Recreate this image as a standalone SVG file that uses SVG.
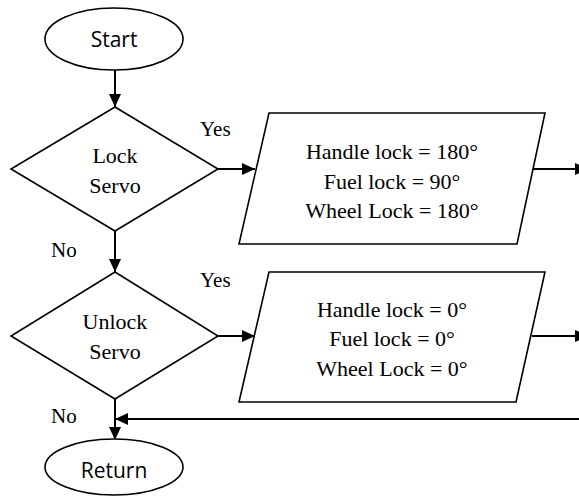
<svg xmlns="http://www.w3.org/2000/svg" width="579" height="497" viewBox="0 0 579 497">
<style>
.shape{fill:#fff;stroke:#000;stroke-width:1.6}
.conn{fill:none;stroke:#000;stroke-width:2}
.sans{font-family:"Open Sans","Noto Sans",sans-serif;font-size:21px;fill:#000;text-anchor:middle}
.serif{font-family:"Liberation Serif","Times New Roman",serif;font-size:22px;fill:#000;text-anchor:middle}
.lbl{font-family:"Liberation Serif","Times New Roman",serif;font-size:21px;fill:#000}
</style>
<defs>
<marker id="ah" markerUnits="userSpaceOnUse" markerWidth="13" markerHeight="12" refX="13" refY="6" orient="auto">
<path d="M0,0 L13,6 L0,12 z" fill="#000"/>
</marker>
</defs>
<rect width="579" height="497" fill="#fff"/>
<g id="connectors">
<path class="conn" d="M115,70 L115,107" marker-end="url(#ah)"/>
<path class="conn" d="M218,169 L255,169" marker-end="url(#ah)"/>
<path class="conn" d="M532,169 L588,169" marker-end="url(#ah)"/>
<path class="conn" d="M115,231 L115,272" marker-end="url(#ah)"/>
<path class="conn" d="M218,336 L255,336" marker-end="url(#ah)"/>
<path class="conn" d="M532,336 L588,336" marker-end="url(#ah)"/>
<path class="conn" d="M115,399 L115,440" marker-end="url(#ah)"/>
<path class="conn" d="M579,419 L115,419" marker-end="url(#ah)"/>
<text class="lbl" x="200" y="136">Yes</text>
<text class="lbl" x="51" y="257">No</text>
<text class="lbl" x="200" y="287">Yes</text>
<text class="lbl" x="51" y="423">No</text>
</g>
<g id="start">
<ellipse class="shape" cx="114" cy="39" rx="69" ry="31"/>
<text class="sans" x="114" y="47">Start</text>
</g>
<g id="lock-servo">
<polygon class="shape" points="115,107 218,169 115,231 11,169"/>
<text class="serif" x="115" y="163">Lock</text>
<text class="serif" x="115" y="193">Servo</text>
</g>
<g id="lock-output">
<polygon class="shape" points="269,113 545,113 517,244 239,244"/>
<text class="serif" x="392" y="159">Handle lock = 180°</text>
<text class="serif" x="392" y="189">Fuel lock = 90°</text>
<text class="serif" x="392" y="218">Wheel Lock = 180°</text>
</g>
<g id="unlock-servo">
<polygon class="shape" points="115,272 218,336 115,399 11,336"/>
<text class="serif" x="115" y="329">Unlock</text>
<text class="serif" x="115" y="359">Servo</text>
</g>
<g id="unlock-output">
<polygon class="shape" points="269,272 545,272 516,402 239,402"/>
<text class="serif" x="392" y="317">Handle lock = 0°</text>
<text class="serif" x="392" y="346">Fuel lock = 0°</text>
<text class="serif" x="392" y="376">Wheel Lock = 0°</text>
</g>
<g id="return">
<ellipse class="shape" cx="114" cy="467" rx="69" ry="28"/>
<text class="sans" x="114" y="478">Return</text>
</g>
</svg>
